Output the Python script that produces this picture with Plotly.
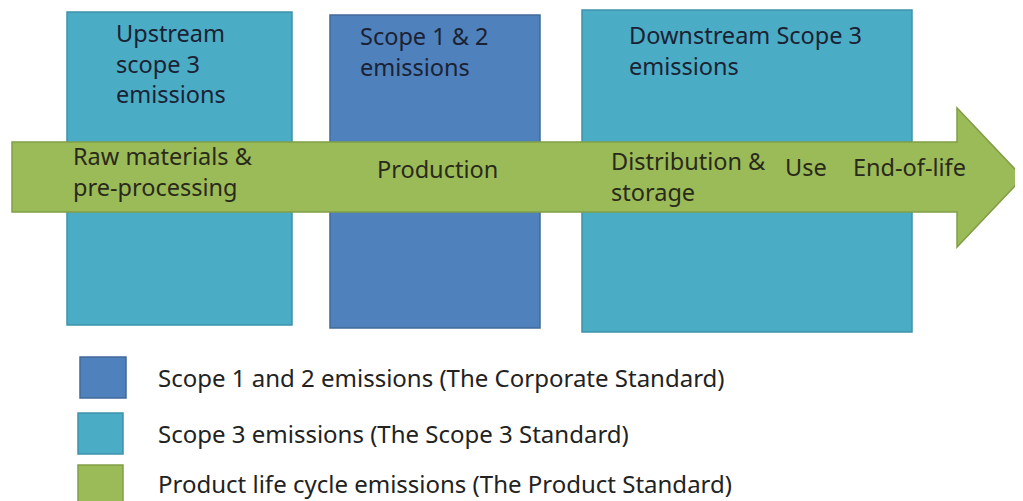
import plotly.graph_objects as go

W, H = 1023, 501
OFF = 8  # page body margin of the browser

# Boxes: extents in picture pixels, label lines, colour
box_names = ["Upstream", "Scope12", "Downstream"]
box_x0 = [67, 330, 582]
box_x1 = [292, 540, 912]
box_y0 = [12, 15, 10]
box_y1 = [325, 328, 332]
box_fill = ["#4BACC6", "#4F81BD", "#4BACC6"]
box_line = ["#3F93AA", "#41699A", "#3F93AA"]
box_text_lines = [["Upstream", "scope 3", "emissions"],
                  ["Scope 1 & 2", "emissions"],
                  ["Downstream Scope 3", "emissions"]]
box_text_x = [114, 358, 627]
box_text_y = [63, 51.5, 50.5]

# Arrow geometry
arrow_x0, arrow_head_x, arrow_tip_x = 12, 957, 1023
arrow_shaft_y0, arrow_shaft_y1 = 142, 212
arrow_head_y0, arrow_head_y1 = 108, 247
arrow_fill, arrow_line = "#9BBB59", "#819E47"

# Lifecycle stage labels
stage_lines = [["Raw materials &", "pre-processing"], ["Production"],
               ["Distribution &", "storage"], ["Use"], ["End-of-life"]]
stage_x = [71, 375, 609, 783, 851]
stage_y = [171.5, 169, 176.5, 167, 167]

# Legend
legend_labels = ["Scope 1 and 2 emissions (The Corporate Standard)",
                 "Scope 3 emissions (The Scope 3 Standard)",
                 "Product life cycle emissions (The Product Standard)"]
legend_colors = ["#4F81BD", "#4BACC6", "#9BBB59"]
legend_lines = ["#41699A", "#3F93AA", "#819E47"]
legend_sq_x0 = [80, 78, 78]
legend_sq_x1 = [126, 123, 123]
legend_sq_y0 = [357, 413, 465]
legend_sq_y1 = [398, 454, 506]
legend_text_x = 156
legend_text_y = [377, 433, 483]

FONT = "Noto Sans"
TXT = "#1b2233"

fig = go.Figure()
fig.add_trace(go.Scatter(x=[OFF, W], y=[OFF, H], mode="markers",
                         marker=dict(opacity=0), hoverinfo="skip", showlegend=False))

shapes = []
for i in range(len(box_names)):
    shapes.append(dict(type="rect", x0=box_x0[i], x1=box_x1[i], y0=box_y0[i], y1=box_y1[i],
                       fillcolor=box_fill[i], line=dict(color=box_line[i], width=1.5), layer="below"))

path = (f"M {arrow_x0},{arrow_shaft_y0} L {arrow_head_x},{arrow_shaft_y0} "
        f"L {arrow_head_x},{arrow_head_y0} L {arrow_tip_x},{(arrow_head_y0+arrow_head_y1)/2} "
        f"L {arrow_head_x},{arrow_head_y1} L {arrow_head_x},{arrow_shaft_y1} "
        f"L {arrow_x0},{arrow_shaft_y1} Z")
shapes.append(dict(type="path", path=path, fillcolor=arrow_fill,
                   line=dict(color=arrow_line, width=1.5), layer="below"))

for i in range(len(legend_labels)):
    shapes.append(dict(type="rect", x0=legend_sq_x0[i], x1=legend_sq_x1[i],
                       y0=legend_sq_y0[i], y1=legend_sq_y1[i],
                       fillcolor=legend_colors[i], line=dict(color=legend_lines[i], width=1.5),
                       layer="below"))

ann = []
def add_text(t, x, y, size, color=TXT):
    ann.append(dict(text=t, x=x, y=y, xref="x", yref="y", xanchor="left", yanchor="middle",
                    align="left", showarrow=False,
                    font=dict(family=FONT, size=size, color=color)))

for lines, x, y in zip(box_text_lines, box_text_x, box_text_y):
    add_text("<br>".join(lines), x, y, 23.5)
for lines, x, y in zip(stage_lines, stage_x, stage_y):
    add_text("<br>".join(lines), x, y, 23.5, "#2a2a1a")
for t, y in zip(legend_labels, legend_text_y):
    add_text(t, legend_text_x, y, 24, "#222222")

fig.update_layout(
    width=W - OFF, height=H - OFF, margin=dict(l=0, r=0, t=0, b=0),
    paper_bgcolor="white", plot_bgcolor="white",
    xaxis=dict(range=[OFF, W], visible=False, fixedrange=True),
    yaxis=dict(range=[H, OFF], visible=False, fixedrange=True),
    shapes=shapes, annotations=ann, showlegend=False,
)
fig.write_html("out.html", config={"displayModeBar": False})
